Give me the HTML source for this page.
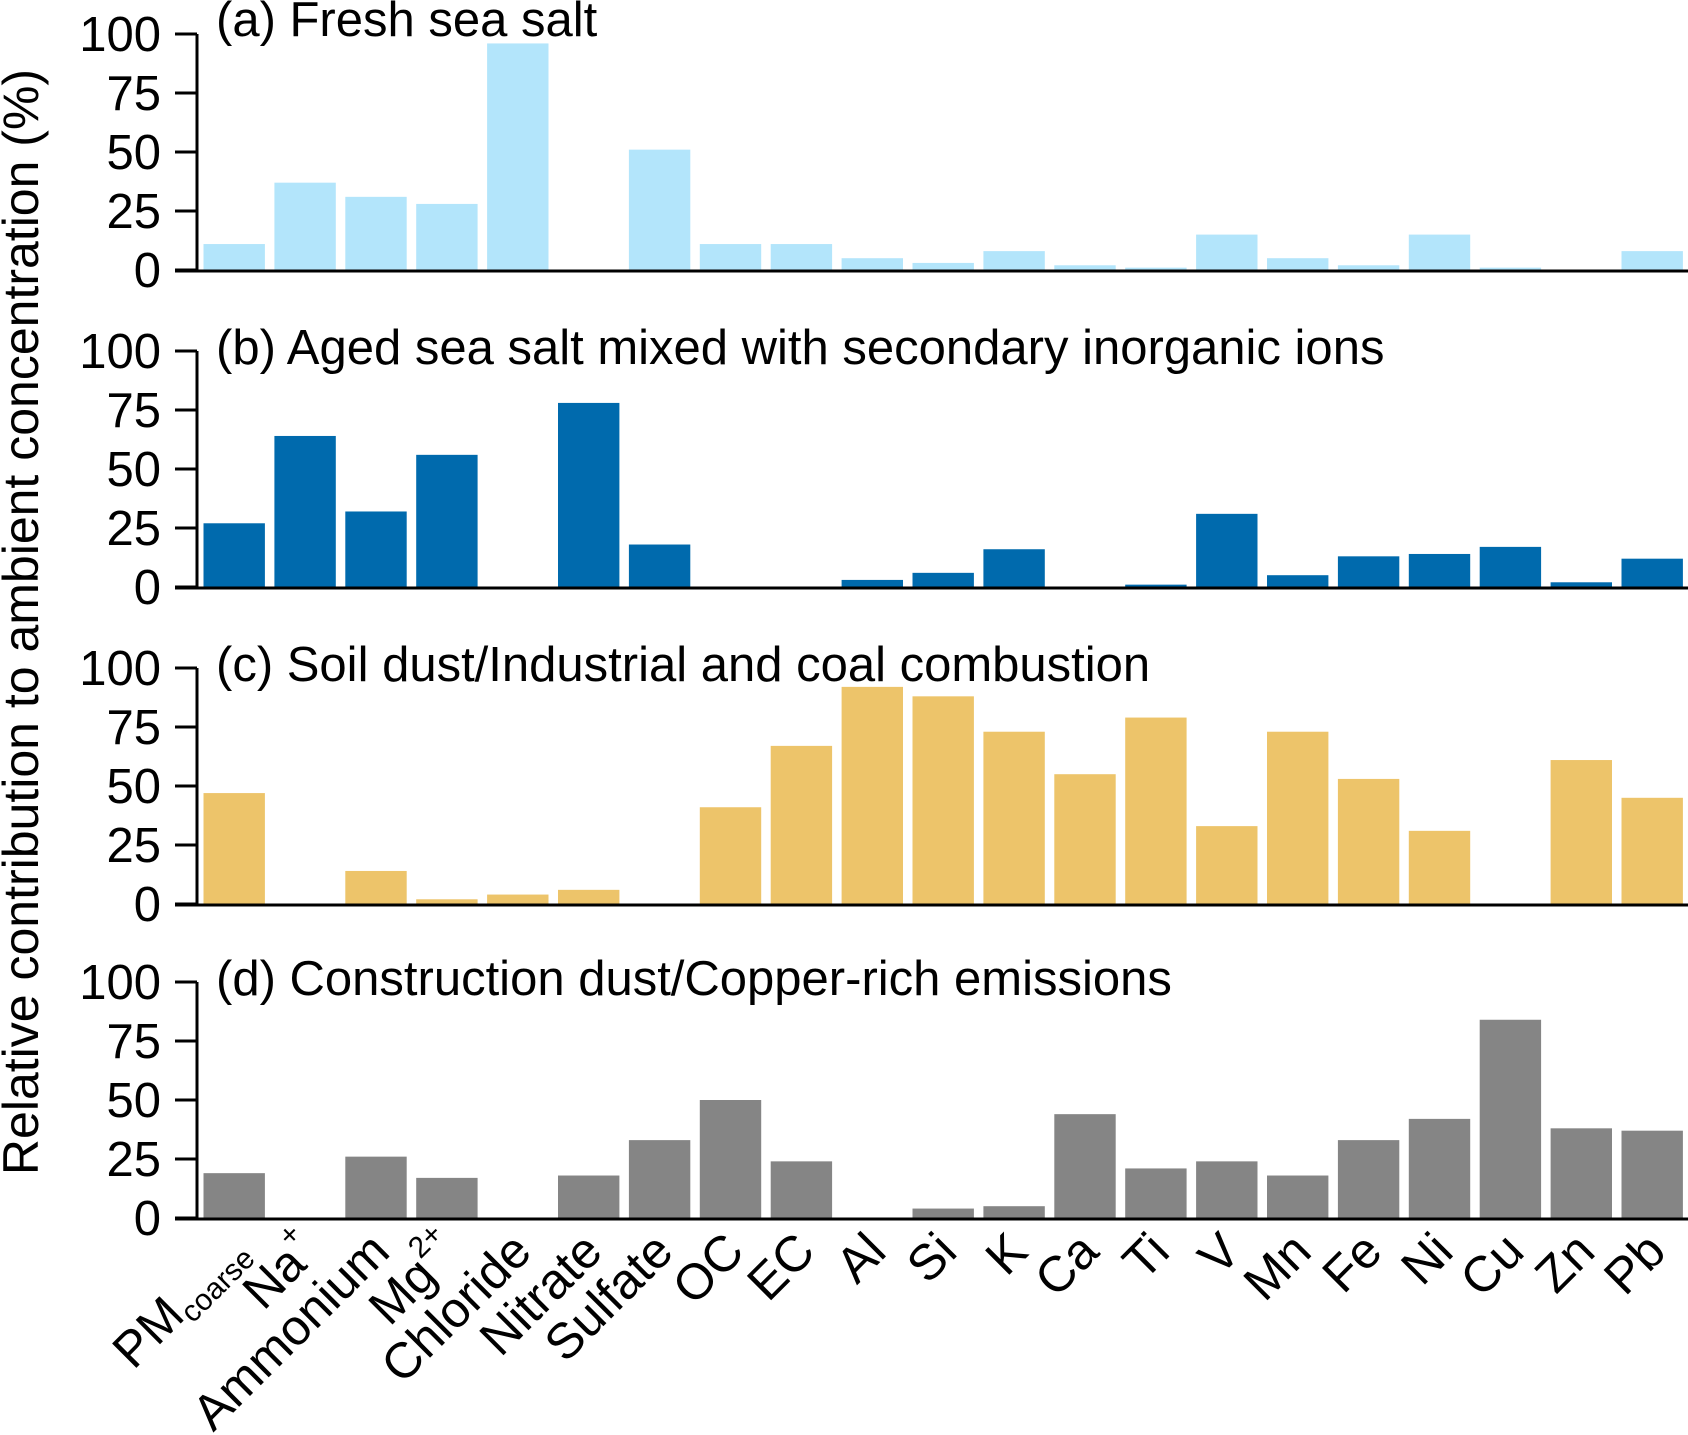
<!DOCTYPE html>
<html><head><meta charset="utf-8"><style>
body{margin:0;background:#fff}
svg{display:block;font-family:"Liberation Sans",Arial,sans-serif}
</style></head><body>
<svg id="chart" width="1688" height="1435" viewBox="0 0 1688 1435" xmlns="http://www.w3.org/2000/svg">
<text transform="translate(38,622) rotate(-90)" text-anchor="middle" font-size="50">Relative contribution to ambient concentration (%)</text>
<g id="panels"></g>
<g id="xlabels"></g>
</svg>
<script>
const categories = ["PM","Na","Ammonium","Mg","Chloride","Nitrate","Sulfate","OC","EC","Al","Si","K","Ca","Ti","V","Mn","Fe","Ni","Cu","Zn","Pb"];
const seriesA = [11,37,31,28,96,0,51,11,11,5,3,8,2,1,15,5,2,15,1,0,8];
const seriesB = [27,64,32,56,0,78,18,0,0,3,6,16,0,1,31,5,13,14,17,2,12];
const seriesC = [47,0,14,2,4,6,0,41,67,92,88,73,55,79,33,73,53,31,0,61,45];
const seriesD = [19,0,26,17,0,18,33,50,24,0,4,5,44,21,24,18,33,42,84,38,37];
const yTicks = [0,25,50,75,100];
const titles = ["(a) Fresh sea salt","(b) Aged sea salt mixed with secondary inorganic ions","(c) Soil dust/Industrial and coal combustion","(d) Construction dust/Copper-rich emissions"];
const colors = ["#b3e5fb","#006aad","#edc46a","#858585"];
const allSeries = [seriesA,seriesB,seriesC,seriesD];
const baselines = [270,587,904,1218];
const NS="http://www.w3.org/2000/svg";
const plotH=236, axisX=197, x0=203.5, step=70.9, bw=61.4;
function xPos(i){return x0+i*step;}
function yScale(v,p){return baselines[p]-v/100*plotH;}
function mk(t,a,parent){const e=document.createElementNS(NS,t);for(const k in a)e.setAttribute(k,a[k]);parent.appendChild(e);return e;}
const panels=document.getElementById('panels');
allSeries.forEach((s,p)=>{
  const g=mk('g',{},panels);
  
  
  s.forEach((v,i)=>{
    if(v<=0)return;
    const r=mk('rect',{x:xPos(i),y:yScale(v,p),width:bw,height:baselines[p]-yScale(v,p),fill:colors[p]},g);
    
    
  });
  const ya=mk('line',{x1:axisX,x2:axisX,y1:yScale(100,p),y2:baselines[p],stroke:'#000','stroke-width':3},g);
  
  
  const xa=mk('line',{x1:175,x2:1688,y1:baselines[p]+1,y2:baselines[p]+1,stroke:'#000','stroke-width':3},g);
  
  
  yTicks.forEach(t=>{
    const y=yScale(t,p);
    const tk=mk('line',{x1:175,x2:axisX,y1:y,y2:y,stroke:'#000','stroke-width':3},g);
    
    
    const tl=mk('text',{x:161,y:y+17,'text-anchor':'end','font-size':49},g);
    tl.textContent=t;
    
    
  });
  const ti=mk('text',{x:216,y:yScale(100,p)+(p===0?2:13),'font-size':49},g);
  ti.textContent=titles[p];
  
  
});
const xl=document.getElementById('xlabels');
categories.forEach((c,i)=>{
  const cx=xPos(i)+bw/2+16, cy=1254;
  const t=mk('text',{transform:`translate(${cx},${cy}) rotate(-45)`,'text-anchor':'end','font-size':50},xl);
  
  
  if(c==='PM'){t.innerHTML='PM<tspan font-size="30" dy="9">coarse</tspan>';}
  else if(c==='Na'){t.innerHTML='Na<tspan font-size="30" dy="-26">+</tspan>';}
  else if(c==='Mg'){t.innerHTML='Mg<tspan font-size="30" dy="-26">2+</tspan>';}
  else t.textContent=c;
});
</script>
</body></html>
